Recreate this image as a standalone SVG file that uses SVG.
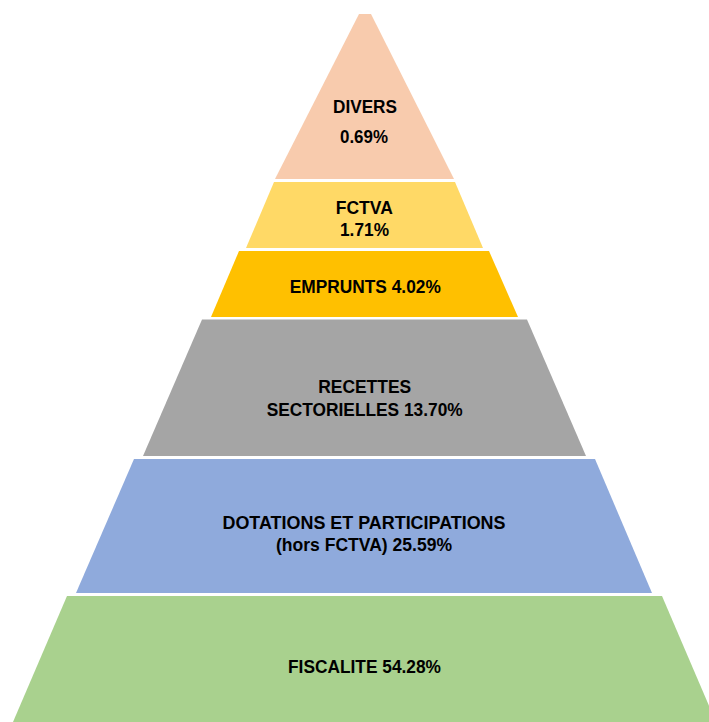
<svg xmlns="http://www.w3.org/2000/svg" width="709" height="722" viewBox="0 0 709 722">
<style>
.t{font-family:"Liberation Sans",Arial,sans-serif;font-weight:bold;font-size:19px;fill:#000;text-anchor:middle}
</style>
<rect width="709" height="722" fill="#fff"/>
<g id="divers">
<polygon points="359,14 371,14 454,179 275,179" fill="#F8CBAD"/>
<text class="t" x="365" y="113" textLength="64" lengthAdjust="spacingAndGlyphs">DIVERS</text>
<text class="t" x="364" y="142.5" textLength="48" lengthAdjust="spacingAndGlyphs">0.69%</text>
</g>
<g id="fctva">
<polygon points="274,182 455,182 483,248 246,248" fill="#FFD966"/>
<text class="t" x="364.3" y="214" textLength="57" lengthAdjust="spacingAndGlyphs">FCTVA</text>
<text class="t" x="364.5" y="236" textLength="49" lengthAdjust="spacingAndGlyphs">1.71%</text>
</g>
<g id="emprunts">
<polygon points="239,251 489,251 518,317 211,317" fill="#FFC000"/>
<text class="t" x="365.3" y="293" textLength="151" lengthAdjust="spacingAndGlyphs">EMPRUNTS 4.02%</text>
</g>
<g id="recettes">
<polygon points="202,319.5 527,319.5 586,456 143,456" fill="#A5A5A5"/>
<text class="t" x="364.7" y="393" textLength="93" lengthAdjust="spacingAndGlyphs">RECETTES</text>
<text class="t" x="364.7" y="415.5" textLength="196" lengthAdjust="spacingAndGlyphs">SECTORIELLES 13.70%</text>
</g>
<g id="dotations">
<polygon points="134,459 595,459 652,593 76,593" fill="#8FAADC"/>
<text class="t" x="364" y="529" textLength="283" lengthAdjust="spacingAndGlyphs">DOTATIONS ET PARTICIPATIONS</text>
<text class="t" x="364" y="550.5" textLength="176" lengthAdjust="spacingAndGlyphs">(hors FCTVA) 25.59%</text>
</g>
<g id="fiscalite">
<polygon points="67,596 662,596 716,722 13,722" fill="#A9D18E"/>
<text class="t" x="364.5" y="673" textLength="153" lengthAdjust="spacingAndGlyphs">FISCALITE 54.28%</text>
</g>
<g id="connectors"/>
</svg>
